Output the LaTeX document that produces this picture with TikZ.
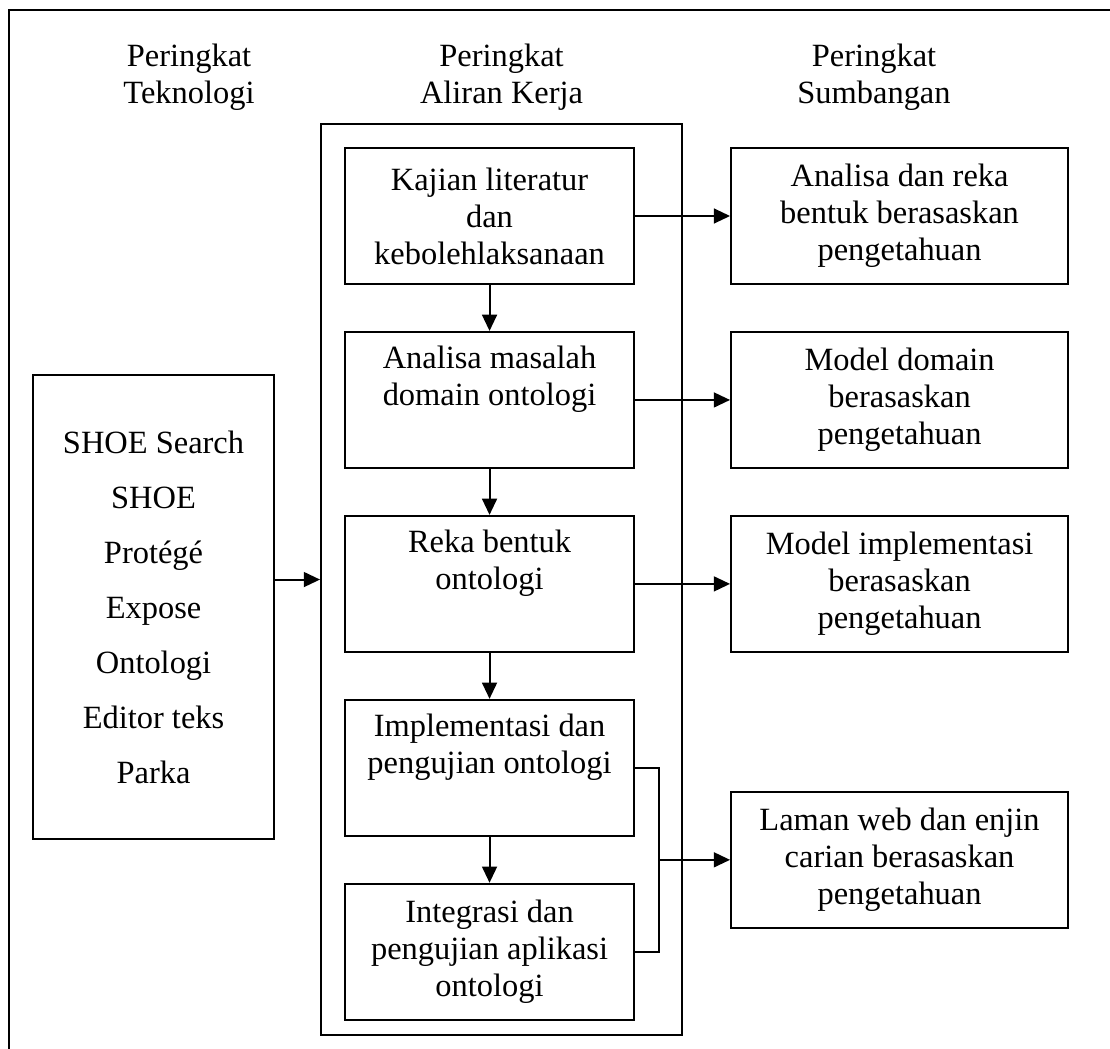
\documentclass[tikz,border=0pt]{standalone}
\usepackage{fontspec}
\setmainfont{Liberation Serif}
\usetikzlibrary{arrows.meta,positioning,calc}

\begin{document}
\begin{tikzpicture}[>={Triangle[length=6pt,width=5.5pt]},line width=0.75pt,
  font=\fontsize{12}{13.7}\selectfont,node distance=0.597cm,
  kotak/.style={draw,minimum width=3.757cm,minimum height=1.768cm,align=center,inner sep=0pt},
  hasil/.style={draw,minimum width=4.381cm,minimum height=1.768cm,align=center,inner sep=0pt},
  tajuk/.style={align=center}]
\useasboundingbox (0,0) rectangle (14.43,-13.637);
\draw (14.43,-0.13) -- (0.117,-0.13) -- (0.117,-13.637);

\node[tajuk] (ht) at (2.457,-1.0) {Peringkat\\Teknologi};
\node[tajuk] (ha) at (6.52,-1.0) {Peringkat\\Aliran Kerja};
\node[tajuk] (hs) at (11.362,-1.0) {Peringkat\\Sumbangan};

\node[draw,minimum width=4.693cm,minimum height=11.843cm] (flow) at (6.52,-7.534) {};
\node[draw,minimum width=3.133cm,minimum height=6.032cm,align=center,
  font=\fontsize{12}{20.35}\selectfont] (tek) at (1.996,-7.891)
  {SHOE Search\\SHOE\\Protégé\\Expose\\Ontologi\\Editor teks\\Parka};

\node[kotak] (k1) at (6.364,-2.808) {Kajian literatur\\dan\\kebolehlaksanaan};
\node[kotak,below=of k1] (k2) {Analisa masalah\\domain ontologi\\\strut};
\node[kotak,below=of k2] (k3) {Reka bentuk\\ontologi\\\strut};
\node[kotak,below=of k3] (k4) {Implementasi dan\\pengujian ontologi\\\strut};
\node[kotak,below=of k4] (k5) {Integrasi dan\\pengujian aplikasi\\ontologi};

\node[hasil,right=1.235cm of k1] (s1) {Analisa dan reka\\bentuk berasaskan\\pengetahuan};
\node[hasil,right=1.235cm of k2] (s2) {Model domain\\berasaskan\\pengetahuan};
\node[hasil,right=1.235cm of k3] (s3) {Model implementasi\\berasaskan\\pengetahuan};
\coordinate (gab) at ($($(k4.east)!0.5!(k5.east)$)+(0.312,0)$);
\node[hasil,right=0.923cm of gab] (s4) {Laman web dan enjin\\carian berasaskan\\pengetahuan};

\draw[->] (tek.east |- flow.west) -- (flow.west);
\foreach \i/\j in {1/2,2/3,3/4,4/5}
  \draw[->] (k\i) -- (k\j);
\foreach \i in {1,2,3}
  \draw[->] (k\i.east) -- (s\i.west);
\draw (k4.east) -- ++(0.312,0) |- (k5.east);
\draw[->] (gab) -- (s4.west);
\end{tikzpicture}
\end{document}
